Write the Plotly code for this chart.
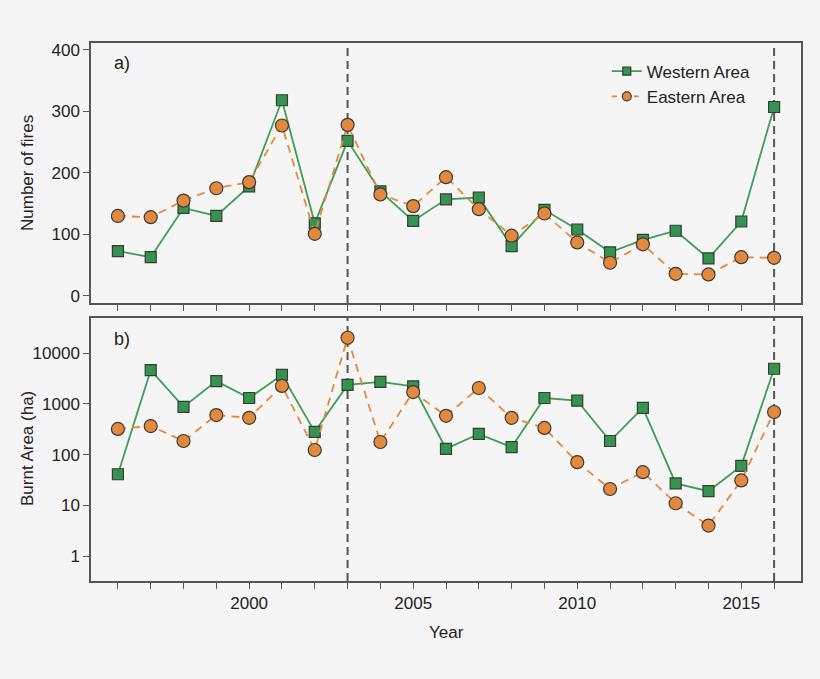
import plotly.graph_objects as go

years = list(range(1996, 2017))
west_fires = [73, 63, 143, 130, 178, 318, 118, 252, 170, 122, 157, 160, 81, 140, 108, 71, 91, 106, 61, 121, 307]
east_fires = [130, 128, 155, 175, 185, 277, 101, 278, 165, 146, 193, 141, 98, 134, 87, 54, 84, 36, 35, 63, 62]
west_area = [41, 4600, 870, 2800, 1300, 3700, 280, 2350, 2700, 2200, 130, 255, 140, 1300, 1150, 185, 830, 27, 19, 60, 4900]
east_area = [320, 365, 185, 600, 530, 2250, 123, 20000, 177, 1700, 580, 2050, 530, 335, 71, 21, 45, 11, 4, 31, 690]
event_years = [2003, 2016]

green_line = "#3f9d55"
green_fill = "#34944f"
orange = "#e3893d"
edge = "#3a3a3a"
axc = "#555555"
bg = "#f5f5f5"
font = "Liberation Sans, Arial, sans-serif"

W, H = 820, 679

fig = go.Figure()

def add(x, y, yaxis, name, color, fill, dash, symbol, size, show):
    fig.add_trace(go.Scatter(
        x=x, y=y, xaxis="x" if yaxis == "y" else "x2", yaxis=yaxis, name=name,
        mode="lines+markers", showlegend=show,
        line=dict(color=color, width=1.8, dash=dash),
        marker=dict(symbol=symbol, size=size, color=fill, line=dict(color=edge, width=1.2)),
    ))

add(years, west_fires, "y", "Western Area", green_line, green_fill, "solid", "square", 11, False)
add(years, east_fires, "y", "Eastern Area", orange, orange, "8px,6px", "circle", 13, False)
add(years, west_area, "y2", "Western Area", green_line, green_fill, "solid", "square", 11, False)
add(years, east_area, "y2", "Eastern Area", orange, orange, "8px,6px", "circle", 13, False)
# legend entries with the small legend markers of the original
add([None], [None], "y", "Western Area", green_line, green_fill, "solid", "square", 8, True)
add([None], [None], "y", "Eastern Area", orange, orange, "5px,6px", "circle", 9, True)

shapes = []
for yr in event_years:
    for xr_, yr_ref in (("x", "y domain"), ("x2", "y2 domain")):
        shapes.append(dict(type="line", xref=xr_, yref=yr_ref, x0=yr, x1=yr, y0=0, y1=1,
                           line=dict(color="#555555", width=2, dash="8px,5px"), layer="below"))

xr = [1995.18, 2016.82]
ticktext = [str(y) if y % 5 == 0 else "" for y in years]
common_x = dict(range=xr, tickvals=years, ticks="outside", ticklen=6, tickcolor=axc, tickwidth=1.2,
                showline=True, linecolor=axc, linewidth=1.5, mirror=True, automargin=False,
                showgrid=False, zeroline=False, domain=[91 / W, 801 / W],
                tickfont=dict(size=17))
common_y = dict(ticks="outside", ticklen=6, tickcolor=axc, tickwidth=1.2, showline=True,
                linecolor=axc, linewidth=1.5, mirror=True, showgrid=False, zeroline=False,
                automargin=False, tickfont=dict(size=17))

def py(pix):
    return 1 - pix / H

fig.update_layout(
    width=W, height=H,
    paper_bgcolor=bg, plot_bgcolor=bg,
    margin=dict(l=0, r=0, t=0, b=0),
    font=dict(family=font, size=17, color="#222222"),
    showlegend=True,
    legend=dict(x=0.740, y=0.921, xanchor="left", yanchor="top", bgcolor="rgba(0,0,0,0)",
                font=dict(size=17), tracegroupgap=0),
    xaxis=dict(**common_x, anchor="y", ticktext=[""] * len(years)),
    xaxis2=dict(**common_x, anchor="y2", ticktext=ticktext),
    yaxis=dict(**common_y, domain=[py(303), py(43)], range=[-11.4, 411],
               tickvals=[0, 100, 200, 300, 400]),
    yaxis2=dict(**common_y, domain=[py(581), py(318)], type="log", range=[-0.49, 4.69],
                tickvals=[1, 10, 100, 1000, 10000], ticktext=["1", "10", "100", "1000", "10000"]),
    shapes=shapes,
    annotations=[
        dict(text="a)", xref="paper", yref="paper", x=112 / W, y=py(63), showarrow=False,
             xanchor="left", yanchor="middle", font=dict(size=18)),
        dict(text="b)", xref="paper", yref="paper", x=112 / W, y=py(339), showarrow=False,
             xanchor="left", yanchor="middle", font=dict(size=18)),
        dict(text="Number of fires", xref="paper", yref="paper", x=27 / W, y=py(173),
             showarrow=False, textangle=-90, xanchor="center", yanchor="middle"),
        dict(text="Burnt Area (ha)", xref="paper", yref="paper", x=27 / W, y=py(449),
             showarrow=False, textangle=-90, xanchor="center", yanchor="middle"),
        dict(text="Year", xref="paper", yref="paper", x=446 / W, y=py(632),
             showarrow=False, xanchor="center", yanchor="middle"),
    ],
)

fig.write_html("out.html", config={"displayModeBar": False},
               post_script="document.body.style.margin='0';document.body.style.background='%s';" % bg)
